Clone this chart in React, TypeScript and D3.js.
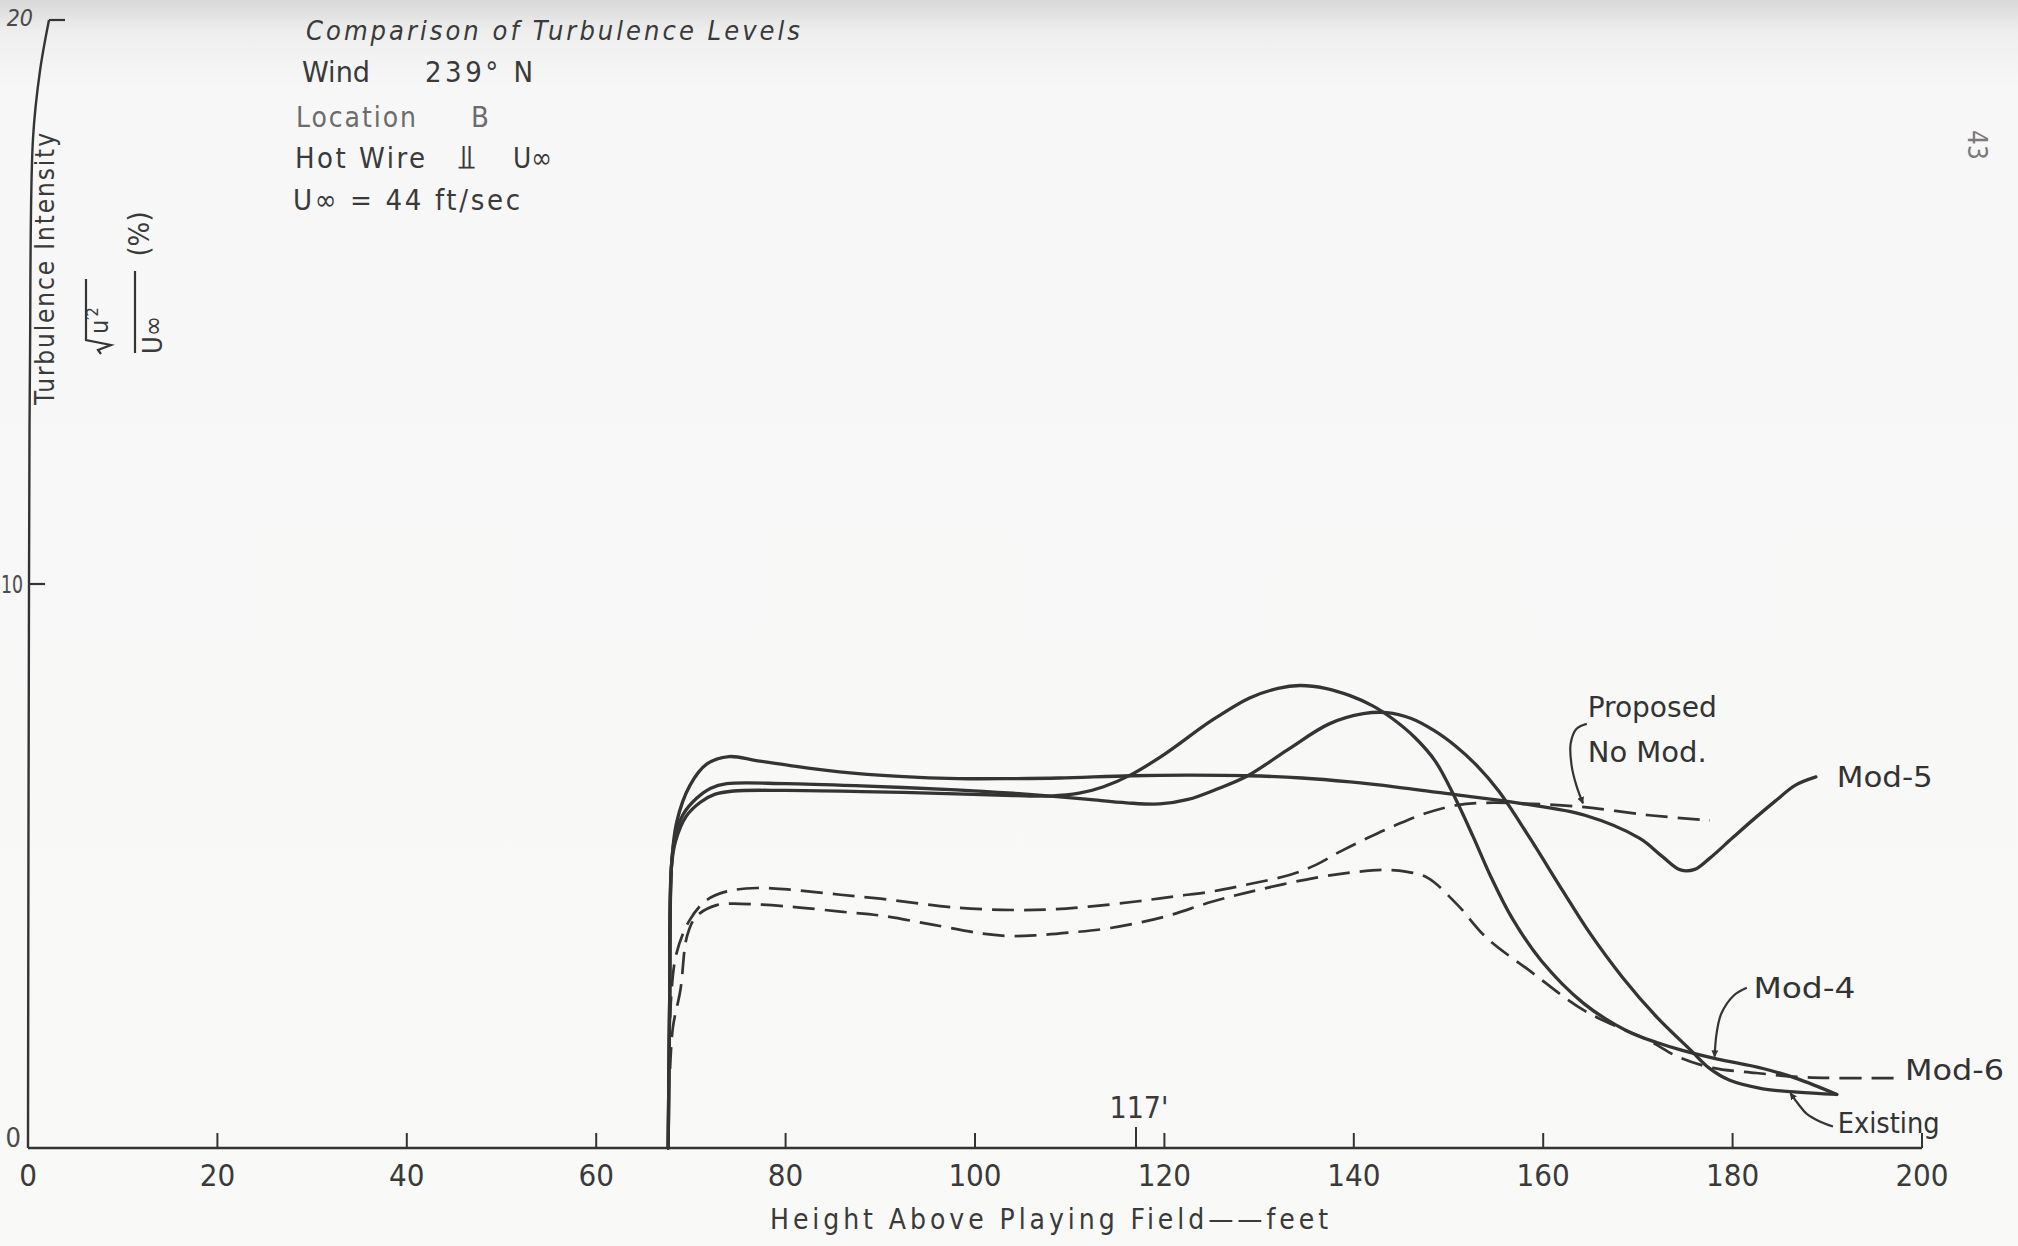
import React from 'react';
import * as d3 from 'd3';

// Axis ticks
const heightTicks = [0, 20, 40, 60, 80, 100, 120, 140, 160, 180, 200];
const intensityTicks = [0, 10, 20];
const markedHeight = 117;

// Mod-5 (solid)
const mod5Height = [67.6, 67.75, 67.95, 68.5, 69.9, 71.7, 74.0, 76.9, 80.5, 85.7, 92, 98.2, 104, 108.9, 116.5, 122.5, 128.9, 134.5, 139.6, 144.5, 150.9, 157.6, 164.4, 170.2, 172.5, 174.5, 176, 177.6, 180, 182.3, 184.5, 186.6, 188.8];
const mod5Intensity = [0, 2.5, 5.0, 5.78, 6.43, 6.81, 6.94, 6.87, 6.78, 6.67, 6.59, 6.55, 6.55, 6.56, 6.6, 6.61, 6.6, 6.56, 6.49, 6.4, 6.26, 6.11, 5.9, 5.49, 5.18, 4.93, 4.94, 5.14, 5.5, 5.84, 6.15, 6.43, 6.58];

// Mod-4 (solid)
const mod4Height = [67.6, 67.75, 67.95, 68.4, 69.5, 71.0, 72.5, 74.5, 80, 88, 98, 104, 108, 111, 113.5, 116.5, 120, 125, 129, 132, 134.3, 137, 139.6, 142, 144.1, 146.5, 148.6, 150.6, 152.6, 154.5, 156.7, 159.8, 164.3, 168.8, 172, 174.7, 178.3, 183.2, 186.8, 191];
const mod4Intensity = [0, 2.5, 5.0, 5.45, 5.88, 6.13, 6.27, 6.33, 6.34, 6.32, 6.28, 6.25, 6.24, 6.29, 6.4, 6.62, 6.98, 7.58, 7.98, 8.15, 8.2, 8.15, 8.02, 7.84, 7.61, 7.27, 6.86, 6.24, 5.52, 4.8, 4.08, 3.32, 2.56, 2.08, 1.87, 1.73, 1.58, 1.41, 1.23, 0.95];

// Existing (solid)
const existingHeight = [67.6, 67.75, 67.95, 68.3, 69.2, 70.6, 72.1, 73.8, 80, 88, 98, 104, 108, 112, 116, 119.5, 122.5, 125.5, 128.8, 133, 137.4, 141, 143.5, 146, 148.5, 150.8, 153, 155.3, 158.5, 162.1, 164.8, 168.4, 172, 175.6, 177.5, 179.7, 183.2, 186.8, 191];
const existingIntensity = [0, 2.5, 5.0, 5.5, 5.92, 6.2, 6.38, 6.46, 6.46, 6.42, 6.35, 6.29, 6.24, 6.18, 6.12, 6.1, 6.18, 6.36, 6.6, 7.06, 7.52, 7.7, 7.72, 7.62, 7.4, 7.12, 6.78, 6.33, 5.52, 4.55, 3.84, 3.02, 2.32, 1.73, 1.42, 1.2, 1.05, 0.99, 0.95];

// Proposed, no modification (dashed)
const proposedHeight = [67.8, 68.4, 69.9, 71.7, 73.8, 77, 80.5, 85.8, 90, 98.2, 104, 108, 112, 117, 121, 125.1, 129, 133.2, 136, 138.6, 141.5, 144.5, 147.5, 150.9, 154, 157.6, 164, 171.2, 177.6];
const proposedIntensity = [2.3, 3.4, 4.05, 4.4, 4.55, 4.61, 4.58, 4.49, 4.42, 4.26, 4.22, 4.23, 4.28, 4.37, 4.46, 4.55, 4.68, 4.84, 5.02, 5.26, 5.5, 5.73, 5.93, 6.08, 6.12, 6.11, 6.05, 5.9, 5.81];

// Mod-6 (dashed)
const mod6Height = [67.8, 68.1, 68.9, 69.6, 70.6, 72.8, 75.2, 80.5, 85.8, 90.1, 95.5, 100.8, 103.5, 106.3, 110, 114.3, 120, 125.1, 130, 135.9, 140, 143, 145.5, 147.8, 150.9, 154, 158.6, 164.4, 171.2, 174.2, 177.9, 182.5, 186.9, 191, 197];
const mod6Intensity = [1.4, 2.14, 2.81, 3.76, 4.11, 4.31, 4.33, 4.28, 4.19, 4.12, 3.96, 3.8, 3.76, 3.77, 3.82, 3.9, 4.1, 4.37, 4.58, 4.79, 4.89, 4.93, 4.9, 4.79, 4.32, 3.73, 3.14, 2.43, 1.9, 1.62, 1.42, 1.33, 1.26, 1.24, 1.24];

// Leader arrows for the curve labels, in (height, intensity)
const proposedLeader: [number, number][] = [[164.6, 7.52], [163.5, 7.43], [162.9, 7.17], [163.0, 6.78], [163.5, 6.43], [164.2, 6.11]];
const mod4Leader: [number, number][] = [[181.5, 2.84], [180.1, 2.7], [178.8, 2.38], [178.3, 2.02], [178.1, 1.62]];
const existingLeader: [number, number][] = [[190.6, 0.38], [189.2, 0.47], [187.8, 0.61], [186.9, 0.79], [186.1, 0.97]];

// Bend of the hand-drawn vertical axis near its top: [intensity, pixel offset]
const axisBend: [number, number][] = [[0, 0], [10, 1], [14, 2], [17.9, 5], [19.1, 12], [20, 21]];

const W = 2018;
const H = 1246;
const INK = '#343434';
const TEXT = '#3a3a3a';
const FONT = "'Liberation Sans Narrow', 'DejaVu Sans Condensed', 'Arial Narrow', 'DejaVu Sans', sans-serif";

type Pt = [number, number];
const zip = (h: number[], v: number[]): Pt[] => h.map((hh, i) => [hh, v[i]] as Pt);

export default function App() {
  const x = d3.scaleLinear().domain([0, 200]).range([28, 1922]);
  const y = d3.scaleLinear().domain([0, 20]).range([1148, 20]);
  const curve = d3
    .line<Pt>()
    .x((d) => x(d[0]))
    .y((d) => y(d[1]))
    .curve(d3.curveCatmullRom.alpha(0.5));

  const series = [
    { key: 'mod5', pts: zip(mod5Height, mod5Intensity), dashed: false },
    { key: 'mod4', pts: zip(mod4Height, mod4Intensity), dashed: false },
    { key: 'existing', pts: zip(existingHeight, existingIntensity), dashed: false },
    { key: 'proposed', pts: zip(proposedHeight, proposedIntensity), dashed: true },
    { key: 'mod6', pts: zip(mod6Height, mod6Intensity), dashed: true },
  ];

  const x0 = x(0);
  const yBase = y(0);
  const axisPath = d3
    .line<Pt>()
    .x((d) => x0 + d[1])
    .y((d) => y(d[0]))
    .curve(d3.curveCatmullRom.alpha(0.5))(axisBend);
  const axisTopX = x0 + axisBend[axisBend.length - 1][1];

  const label = (hx: number, vy: number, text: string, len: number, key: string) => (
    <text key={key} x={x(hx)} y={y(vy)} fontSize={28} textLength={len} lengthAdjust="spacingAndGlyphs">
      {text}
    </text>
  );

  return (
    <div style={{ position: 'absolute', left: 0, top: 0, width: W, height: H }}>
      <svg width={W} height={H} viewBox={`0 0 ${W} ${H}`} style={{ display: 'block', fontFamily: FONT }}>
        <defs>
          <linearGradient id="paper" x1="0" y1="0" x2="0" y2="1">
            <stop offset="0" stopColor="#d8d8d8" />
            <stop offset="0.025" stopColor="#eeeeee" />
            <stop offset="0.07" stopColor="#f7f7f7" />
            <stop offset="1" stopColor="#f9f9f8" />
          </linearGradient>
          <marker id="head" viewBox="0 0 10 10" refX="9" refY="5" markerWidth="7" markerHeight="10" markerUnits="userSpaceOnUse" orient="auto">
            <path d="M0,0 L10,5 L0,10 z" fill={INK} />
          </marker>
        </defs>
        <rect x={0} y={0} width={W} height={H} fill="url(#paper)" />

        {/* vertical axis */}
        <path d={axisPath || ''} fill="none" stroke={INK} strokeWidth={2.4} />
        <line x1={axisTopX} y1={y(20)} x2={axisTopX + 16} y2={y(20)} stroke={INK} strokeWidth={2.2} />
        <line x1={x0} y1={y(10)} x2={x0 + 17} y2={y(10)} stroke={INK} strokeWidth={2.2} />
        <text x={33} y={y(20) + 6} fontSize={23} fill="#4a4a4a" textAnchor="end" fontStyle="italic">
          {intensityTicks[2]}
        </text>
        <text x={1} y={y(10) + 9} fontSize={25} fill="#4a4a4a" textLength={22} lengthAdjust="spacingAndGlyphs">
          {intensityTicks[1]}
        </text>
        <text x={21} y={y(0) - 1} fontSize={27} fill="#4a4a4a" textAnchor="end">
          {intensityTicks[0]}
        </text>

        {/* horizontal axis */}
        <line x1={x(0)} y1={yBase} x2={x(200)} y2={yBase} stroke={INK} strokeWidth={2.4} />
        {heightTicks.map((t) => (
          <g key={t}>
            {t > 0 && <line x1={x(t)} y1={yBase} x2={x(t)} y2={yBase - 15} stroke={INK} strokeWidth={2} />}
            <text x={x(t)} y={1186} fontSize={31} textAnchor="middle" fill={TEXT}>
              {t}
            </text>
          </g>
        ))}
        <line x1={x(markedHeight)} y1={yBase} x2={x(markedHeight)} y2={yBase - 21} stroke={INK} strokeWidth={2} />
        <text x={x(markedHeight) + 3} y={1118} fontSize={30} textAnchor="middle" fill={TEXT}>
          {`${markedHeight}'`}
        </text>
        <text x={770} y={1229} fontSize={28} fill={TEXT} textLength={558} lengthAdjust="spacing">
          Height Above Playing Field——feet
        </text>

        {/* vertical axis title */}
        <text transform="translate(54,269) rotate(-90)" fontSize={26} textAnchor="middle" fill={TEXT} textLength={272} lengthAdjust="spacing">
          Turbulence Intensity
        </text>
        <g transform="translate(135,312) rotate(-90)" fill={TEXT} stroke="none">
          <line x1={-41} y1={0} x2={41} y2={0} stroke={INK} strokeWidth={2.2} />
          <path d="M-42,-34 L-38,-37 L-33,-24 L-28,-49 L33,-49" fill="none" stroke={INK} strokeWidth={2.2} />
          <text x={-22} y={-27} fontSize={25}>
            u<tspan fontSize={16} dy={-10}>′2</tspan>
          </text>
          <text x={-42} y={27} fontSize={27}>
            U∞
          </text>
          <text x={78} y={14} fontSize={29} textAnchor="middle">
            (%)
          </text>
        </g>

        {/* heading block */}
        <g fill={TEXT}>
          <text x={306} y={40} fontSize={27} fontStyle="italic" textLength={494} lengthAdjust="spacing">
            Comparison of Turbulence Levels
          </text>
          <text x={302} y={82} fontSize={29} textLength={68} lengthAdjust="spacingAndGlyphs">
            Wind
          </text>
          <text x={425} y={82} fontSize={29} textLength={108} lengthAdjust="spacing">
            239° N
          </text>
          <text x={296} y={127} fontSize={28} fill="#6c6c6c" textLength={120} lengthAdjust="spacing">
            Location
          </text>
          <text x={471} y={127} fontSize={29} fill="#6c6c6c">
            B
          </text>
          <text x={295} y={168} fontSize={29} textLength={130} lengthAdjust="spacing">
            Hot Wire
          </text>
          <text x={457} y={169} fontSize={34}>
            ⫫
          </text>
          <text x={513} y={168} fontSize={29} textLength={39} lengthAdjust="spacingAndGlyphs">
            U∞
          </text>
          <text x={293} y={210} fontSize={29} textLength={227} lengthAdjust="spacing">
            U∞ = 44 ft/sec
          </text>
        </g>

        {/* page number */}
        <text transform="translate(1968,130) rotate(90)" fontSize={26} fill="#7a7a7a">
          43
        </text>

        {/* curves */}
        {series.map((s) => (
          <path
            key={s.key}
            d={curve(s.pts) || ''}
            fill="none"
            stroke={INK}
            strokeWidth={s.dashed ? 2.7 : 3.3}
            strokeDasharray={s.dashed ? '22 10' : undefined}
            strokeLinejoin="round"
            strokeLinecap={s.dashed ? 'butt' : 'round'}
          />
        ))}

        {/* leaders */}
        {[proposedLeader, mod4Leader, existingLeader].map((p, i) => (
          <path key={i} d={curve(p) || ''} fill="none" stroke={INK} strokeWidth={2.2} markerEnd="url(#head)" />
        ))}

        {/* curve labels */}
        <g fill="#333">
          {label(164.7, 7.64, 'Proposed', 129, 'p1')}
          {label(164.7, 6.84, 'No Mod.', 119, 'p2')}
          {label(191.0, 6.4, 'Mod-5', 96, 'm5')}
          {label(182.2, 2.66, 'Mod-4', 102, 'm4')}
          {label(198.2, 1.2, 'Mod-6', 99, 'm6')}
          {label(191.1, 0.26, 'Existing', 102, 'ex')}
        </g>
      </svg>
    </div>
  );
}
